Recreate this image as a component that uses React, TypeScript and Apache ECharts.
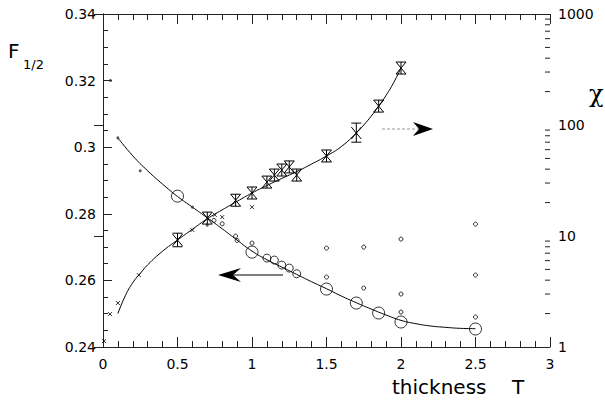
import React, { useEffect, useRef } from "react";
import * as echarts from "echarts";

// ---- data ----
const X_TICKS = [0, 0.5, 1, 1.5, 2, 2.5, 3];
const F_TICKS = [0.24, 0.26, 0.28, 0.3, 0.32, 0.34];
const CHI_TICKS = [1, 10, 100, 1000];

// F_1/2 fit curve (left axis)
const F_FIT_T = [0.1, 0.2, 0.3, 0.4, 0.5, 0.6, 0.7, 0.8, 0.9, 1.0, 1.1, 1.2, 1.3, 1.4, 1.5, 1.6, 1.7, 1.8, 1.9, 2.0, 2.1, 2.2, 2.3, 2.4, 2.5];
const F_FIT = [0.3028, 0.2974, 0.2929, 0.2889, 0.2852, 0.282, 0.2788, 0.2755, 0.2721, 0.2688, 0.2662, 0.264, 0.2618, 0.2596, 0.2575, 0.2553, 0.2533, 0.2514, 0.2496, 0.248, 0.247, 0.2463, 0.2459, 0.2456, 0.2455];

// F_1/2 large circles
const F_BIG_T = [0.5, 1.0, 1.5, 1.7, 1.85, 2.0, 2.5];
const F_BIG = [0.2853, 0.2685, 0.2574, 0.2532, 0.2502, 0.2475, 0.2454];
// F_1/2 medium circles
const F_MID_T = [1.1, 1.15, 1.2, 1.25, 1.3];
const F_MID = [0.2667, 0.2661, 0.2646, 0.2637, 0.262];
// F_1/2 small circles
const F_SMALL_T = [0.745, 0.8, 0.89, 0.9, 1.0, 1.5, 1.75, 2.0, 2.5, 1.5, 1.75, 2.0, 2.5, 2.0, 2.5];
const F_SMALL = [0.278, 0.277, 0.2733, 0.272, 0.2712, 0.261, 0.2577, 0.2559, 0.2616, 0.2697, 0.27, 0.2724, 0.2769, 0.2505, 0.249];
// F_1/2 tiny dots
const F_DOT_T = [0.05, 0.1, 0.25, 0.6, 0.7];
const F_DOT = [0.32, 0.3028, 0.2929, 0.282, 0.2766];

// chi fit curve (right axis, log)
const CHI_FIT_T = [0.1, 0.15, 0.2, 0.25, 0.3, 0.4, 0.5, 0.6, 0.7, 0.8, 0.9, 1.0, 1.1, 1.2, 1.3, 1.4, 1.5, 1.6, 1.7, 1.75, 1.8, 1.85, 1.9, 1.95, 2.0];
const CHI_FIT = [2.0, 2.9, 3.8, 4.6, 5.5, 7.3, 9.2, 11.5, 14.3, 17.2, 20.5, 24.4, 28.5, 33, 38, 44.5, 52.6, 64, 84.7, 100, 120, 148, 185, 240, 326];

// chi points with error bars
const CHI_T = [0.5, 0.7, 0.89, 1.0, 1.1, 1.15, 1.2, 1.25, 1.3, 1.5, 1.7, 1.85, 2.0];
const CHI = [9.2, 14.5, 21, 24.4, 30.6, 35.4, 39.3, 41.9, 35.4, 52.6, 84.7, 148, 326];
const CHI_LO = [8.0, 14.0, 19.5, 23.0, 29, 33.5, 36, 39, 32, 48, 70, 132, 300];
const CHI_HI = [10.6, 15.0, 22.5, 26, 32.5, 37.5, 42.5, 45, 39, 57, 104, 166, 365];

// chi small crosses
const CHI_SMALL_T = [0.007, 0.047, 0.1, 0.24, 0.6, 0.75, 0.8, 1.0];
const CHI_SMALL = [1.13, 1.98, 2.49, 4.45, 11.3, 15.5, 14.8, 18.2];

// log minor tick values on the right axis
const CHI_MINOR = [2, 3, 4, 5, 6, 7, 8, 9, 20, 30, 40, 50, 60, 70, 80, 90, 200, 300, 400, 500, 600, 700, 800, 900];

const zip = (a: number[], b: number[]) => a.map((v, i) => [v, b[i]]);

const FONT = "DejaVu Sans";

export default function App() {
  const ref = useRef<HTMLDivElement>(null);
  useEffect(() => {
    if (!ref.current) return;
    const chart = echarts.init(ref.current, null, { renderer: "svg" });
    const axisLine = { show: true, lineStyle: { color: "#222", width: 1 } };
    const option: any = {
      animation: false,
      backgroundColor: "#fff",
      grid: { left: 103, right: 55, top: 14, bottom: 60 },
      xAxis: [
        {
          type: "value", min: 0, max: 3, interval: 0.5, position: "bottom",
          axisLine,
          axisTick: { show: true, inside: true, length: 10, lineStyle: { color: "#222" } },
          minorTick: { show: true, splitNumber: 5, length: 6, lineStyle: { color: "#222" } },
          axisLabel: {
            color: "#000", fontFamily: FONT, fontSize: 14, margin: 10,
            formatter: (v: number) => (X_TICKS.includes(v) ? String(v) : ""),
          },
          splitLine: { show: false },
        },
        {
          type: "value", min: 0, max: 3, interval: 0.5, position: "top",
          axisLine,
          axisTick: { show: true, inside: true, length: 10, lineStyle: { color: "#222" } },
          minorTick: { show: true, splitNumber: 5, length: 6, lineStyle: { color: "#222" } },
          axisLabel: { show: false },
          splitLine: { show: false },
        },
      ],
      yAxis: [
        {
          type: "value", min: 0.24, max: 0.34, interval: 0.02, position: "left",
          axisLine,
          axisTick: { show: true, inside: true, length: 9, lineStyle: { color: "#222" } },
          minorTick: { show: true, splitNumber: 4, length: 5, lineStyle: { color: "#222" } },
          axisLabel: {
            color: "#000", fontFamily: FONT, fontSize: 14, margin: 7,
            formatter: (v: number) => {
              const t = F_TICKS.find((x) => Math.abs(x - v) < 1e-6);
              return t === undefined ? "" : String(Number(t.toFixed(2)));
            },
          },
          splitLine: { show: false },
        },
        {
          type: "log", logBase: 10, min: 1, max: 1000, position: "right",
          axisLine,
          axisTick: { show: true, inside: true, length: 9, lineStyle: { color: "#222" } },
          axisLabel: {
            color: "#000", fontFamily: FONT, fontSize: 14, margin: 8,
            formatter: (v: number) => {
              const t = CHI_TICKS.find((x) => Math.abs(x - v) / x < 1e-6);
              return t === undefined ? "" : String(t);
            },
          },
          splitLine: { show: false },
        },
      ],
      series: [
        {
          type: "line", xAxisIndex: 0, yAxisIndex: 0, data: zip(F_FIT_T, F_FIT),
          smooth: true, showSymbol: false, lineStyle: { color: "#000", width: 1 }, z: 2,
        },
        {
          type: "line", xAxisIndex: 0, yAxisIndex: 1, data: zip(CHI_FIT_T, CHI_FIT),
          smooth: true, showSymbol: false, lineStyle: { color: "#000", width: 1 }, z: 2,
        },
        {
          type: "scatter", xAxisIndex: 0, yAxisIndex: 0, data: zip(F_BIG_T, F_BIG),
          symbol: "circle", symbolSize: 12,
          itemStyle: { color: "rgba(255,255,255,0)", borderColor: "#000", borderWidth: 1 }, z: 3,
        },
        {
          type: "scatter", xAxisIndex: 0, yAxisIndex: 0, data: zip(F_MID_T, F_MID),
          symbol: "circle", symbolSize: 8,
          itemStyle: { color: "rgba(255,255,255,0)", borderColor: "#000", borderWidth: 1 }, z: 3,
        },
        {
          type: "scatter", xAxisIndex: 0, yAxisIndex: 0, data: zip(F_SMALL_T, F_SMALL),
          symbol: "circle", symbolSize: 4,
          itemStyle: { color: "rgba(255,255,255,0)", borderColor: "#000", borderWidth: 1 }, z: 3,
        },
        {
          type: "scatter", xAxisIndex: 0, yAxisIndex: 0, data: zip(F_DOT_T, F_DOT),
          symbol: "circle", symbolSize: 3,
          itemStyle: { color: "#333" }, z: 3,
        },
        {
          type: "scatter", xAxisIndex: 0, yAxisIndex: 1, data: zip(CHI_SMALL_T, CHI_SMALL),
          symbol: "path://M0,0L10,10M10,0L0,10", symbolSize: 4,
          itemStyle: { color: "rgba(0,0,0,0)", borderColor: "#000", borderWidth: 1 }, z: 3,
        },
        {
          type: "custom", xAxisIndex: 0, yAxisIndex: 1,
          data: CHI_T.map((t, i) => [t, CHI[i], CHI_LO[i], CHI_HI[i]]),
          encode: { x: 0, y: 1 },
          z: 4,
          renderItem: (params: any, api: any) => {
            const c = api.coord([api.value(0), api.value(1)]);
            const lo = api.coord([api.value(0), api.value(2)]);
            const hi = api.coord([api.value(0), api.value(3)]);
            const w = 5;
            const style = { stroke: "#000", lineWidth: 1, fill: null };
            const top = Math.min(hi[1], c[1] - 6);
            const bot = Math.max(lo[1], c[1] + 6);
            return {
              type: "group",
              children: [
                { type: "line", shape: { x1: c[0] - w, y1: c[1] - 6, x2: c[0] + w, y2: c[1] + 6 }, style },
                { type: "line", shape: { x1: c[0] + w, y1: c[1] - 6, x2: c[0] - w, y2: c[1] + 6 }, style },
                { type: "line", shape: { x1: c[0], y1: top, x2: c[0], y2: bot }, style },
                { type: "line", shape: { x1: c[0] - w, y1: top, x2: c[0] + w, y2: top }, style },
                { type: "line", shape: { x1: c[0] - w, y1: bot, x2: c[0] + w, y2: bot }, style },
              ],
            };
          },
        },
        {
          type: "custom", xAxisIndex: 0, yAxisIndex: 1,
          data: CHI_MINOR.map((v) => [3, v]),
          encode: { x: 0, y: 1 },
          clip: false,
          renderItem: (params: any, api: any) => {
            const p = api.coord([api.value(0), api.value(1)]);
            return {
              type: "line",
              shape: { x1: p[0] - 5, y1: p[1], x2: p[0], y2: p[1] },
              style: { stroke: "#222", lineWidth: 1 },
            };
          },
        },
      ],
      graphic: [
        { type: "text", left: 8, top: 41, style: { text: "F", font: `20px '${FONT}'`, fill: "#000" } },
        { type: "text", left: 23, top: 58, style: { text: "1/2", font: `13px '${FONT}'`, fill: "#000" } },
        { type: "text", left: 589, top: 82, style: { text: "χ", font: `24px 'DejaVu Serif'`, fill: "#000" } },
        { type: "text", left: 392, top: 377, style: { text: "thickness", font: `20px '${FONT}'`, fill: "#000" } },
        { type: "text", left: 512, top: 377, style: { text: "T", font: `20px '${FONT}'`, fill: "#000" } },
        // left arrow
        { type: "line", shape: { x1: 226, y1: 275, x2: 283, y2: 275 }, style: { stroke: "#000", lineWidth: 1 } },
        { type: "polygon", shape: { points: [[218, 275], [241, 268], [233, 275], [241, 282]] }, style: { fill: "#000" } },
        // right arrow
        { type: "line", shape: { x1: 382, y1: 129, x2: 420, y2: 129 }, style: { stroke: "#999", lineWidth: 1, lineDash: [3, 2] } },
        { type: "polygon", shape: { points: [[433, 129], [413, 122], [419, 129], [413, 136]] }, style: { fill: "#000" } },
      ],
    };
    chart.setOption(option);
    return () => chart.dispose();
  }, []);
  return (
    <div
      ref={ref}
      style={{ position: "fixed", left: 0, top: 0, width: 605, height: 407, background: "#fff" }}
    />
  );
}
